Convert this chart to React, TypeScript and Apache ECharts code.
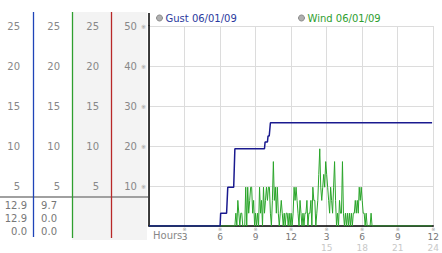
import React, { useEffect, useRef } from 'react';
import * as echarts from 'echarts';

// ---- data ----
const hourTicks = [3, 6, 9, 12, 15, 18, 21, 24];
const hourLabels = ['3', '6', '9', '12', '3', '6', '9', '12'];
const pmLabels = ['', '', '', '', '15', '18', '21', '24'];

const gustName = 'Gust 06/01/09';
const windName = 'Wind 06/01/09';

const gustTimes = [0, 6.0, 6.05, 6.55, 6.65, 7.15, 7.25, 9.75, 9.8, 10.0, 10.05, 10.15, 10.25, 23.9];
const gustValues = [0, 0, 3.2, 3.2, 9.7, 9.7, 19.3, 19.3, 21, 21, 22.5, 22.5, 25.8, 25.8];

const windStartHour = 6;
const windStepHours = 5 / 60;
const windValues = [
  0, 0, 0, 0, 0, 0, 0, 0, 0, 0, 0, 0,
  0, 0, 0, 0, 3.2, 0, 6.4, 3.2, 0, 3.2, 3.2, 0,
  0, 0, 9.7, 0, 9.7, 3.2, 6.4, 9.7, 9.7, 3.2, 6.4, 0,
  3.2, 0, 3.2, 0, 9.7, 3.2, 6.4, 0, 9.7, 3.2, 6.4, 9.7,
  6.4, 9.7, 9.7, 3.2, 0, 6.4, 16.1, 6.4, 9.7, 3.2, 9.7, 3.2,
  0, 3.2, 6.4, 3.2, 0, 3.2, 0, 3.2, 3.2, 0, 3.2, 0,
  3.2, 0, 3.2, 9.7, 6.4, 9.7, 6.4, 3.2, 0, 6.4, 3.2, 0,
  3.2, 0, 3.2, 3.2, 6.4, 0, 3.2, 3.2, 6.4, 0, 9.7, 6.4,
  6.4, 0, 3.2, 6.4, 12.9, 19.3, 9.7, 6.4, 9.7, 12.9, 9.7, 16.1,
  12.9, 9.7, 6.4, 3.2, 9.7, 6.4, 3.2, 9.7, 16.1, 6.4, 0, 3.2,
  0, 6.4, 3.2, 3.2, 16.1, 3.2, 0, 3.2, 0, 3.2, 0, 3.2,
  0, 3.2, 0, 3.2, 3.2, 6.4, 3.2, 6.4, 3.2, 9.7, 6.4, 9.7,
  6.4, 3.2, 3.2, 0, 3.2, 0, 0, 0, 0, 3.2, 0, 0,
  0,
];
const windFirst = [0, 0];
const windLast = [23.9, 0];

const summaryGust = ['12.9', '12.9', '0.0'];
const summaryWind = ['9.7', '0.0', '0.0'];

const FONT = 'DejaVu Sans, Noto Sans CJK JP, sans-serif';

export default function App() {
  const ref = useRef<HTMLDivElement>(null);
  useEffect(() => {
    document.body.style.margin = '0';
    if (!ref.current) return;
    const chart = echarts.init(ref.current, null, { renderer: 'svg' });

    const gustData = gustTimes.map((t, i) => [t, gustValues[i]]);
    const windData = [
      windFirst,
      ...windValues.map((v, i) => [windStartHour + i * windStepHours, v]),
      windLast,
    ];

    const leftAxis = (offset: number, margin: number) => ({
      type: 'value',
      gridIndex: 0,
      position: 'left',
      offset,
      min: 0,
      max: 25,
      interval: 5,
      axisLine: { show: false },
      axisTick: { show: false },
      splitLine: { show: false },
      axisLabel: {
        showMinLabel: false,
        margin,
        color: '#888',
        fontSize: 10,
        fontFamily: FONT,
      },
    });

    const extraX = (margin: number, formatter: (v: number) => string, color: string, fontSize: number) => ({
      type: 'value',
      gridIndex: 0,
      position: 'bottom',
      min: 0,
      max: 24,
      interval: 3,
      axisLine: { show: false },
      axisTick: { show: false },
      splitLine: { show: false },
      axisLabel: {
        showMinLabel: false,
        showMaxLabel: true,
        margin,
        formatter,
        color,
        fontSize,
        lineHeight: 9,
        fontFamily: FONT,
      },
    });

    const summaryTexts: any[] = [];
    const rowsY = [205, 218.5, 231];
    summaryGust.forEach((s, i) =>
      summaryTexts.push({
        type: 'text',
        x: 27,
        y: rowsY[i],
        z: 5,
        style: { text: s, fill: '#777', fontSize: 10, fontFamily: FONT, align: 'right', verticalAlign: 'middle' },
      })
    );
    summaryWind.forEach((s, i) =>
      summaryTexts.push({
        type: 'text',
        x: 57,
        y: rowsY[i],
        z: 5,
        style: { text: s, fill: '#777', fontSize: 10, fontFamily: FONT, align: 'right', verticalAlign: 'middle' },
      })
    );

    chart.setOption({
      animation: false,
      textStyle: { fontFamily: FONT },
      grid: { left: 149, top: 26, right: 2, bottom: 27, containLabel: false },
      legend: [
        {
          data: [{ name: gustName, icon: 'circle', itemStyle: { color: '#b0b0b0', borderColor: '#888', borderWidth: 1 }, textStyle: { color: '#2b3a9e' } }],
          left: 156,
          top: 13,
          padding: 0,
          itemWidth: 6,
          itemHeight: 6,
          selectedMode: false,
          textStyle: { fontSize: 10, fontFamily: FONT, padding: [0, 0, 0, -2] },
        },
        {
          data: [{ name: windName, icon: 'circle', itemStyle: { color: '#b0b0b0', borderColor: '#888', borderWidth: 1 }, textStyle: { color: '#2e9e2e' } }],
          left: 298,
          top: 13,
          padding: 0,
          itemWidth: 6,
          itemHeight: 6,
          selectedMode: false,
          textStyle: { fontSize: 10, fontFamily: FONT, padding: [0, 0, 0, -2] },
        },
      ],
      xAxis: [
        {
          type: 'value',
          position: 'bottom',
          min: 0,
          max: 24,
          interval: 3,
          axisLine: { show: true, lineStyle: { color: '#000', width: 1.5 } },
          axisTick: { show: false },
          splitLine: { show: true, lineStyle: { color: '#dcdcdc', width: 1 } },
          axisLabel: {
            showMinLabel: false,
            showMaxLabel: true,
            margin: 0,
            formatter: () => '※',
            color: '#999',
            fontSize: 5,
            lineHeight: 5,
            fontFamily: FONT,
          },
        },
        extraX(6, (v: number) => {
          const i = hourTicks.indexOf(v);
          return i < 0 ? '' : hourLabels[i];
        }, '#777', 9),
        extraX(17, (v: number) => {
          const i = hourTicks.indexOf(v);
          return i < 0 ? '' : pmLabels[i];
        }, '#c8c8c8', 9),
      ],
      yAxis: [
        {
          type: 'value',
          position: 'left',
          min: 0,
          max: 50,
          interval: 10,
          axisLine: { show: true, lineStyle: { color: '#000', width: 1.5 } },
          axisTick: { show: false },
          splitLine: { show: true, lineStyle: { color: '#dcdcdc', width: 1 } },
          axisLabel: {
            showMinLabel: false,
            margin: 3,
            formatter: (v: number) => (v === 0 ? '' : `{v|${v}}{m|※}`),
            rich: {
              v: { fontSize: 10, color: '#888', fontFamily: FONT },
              m: { fontSize: 6, color: '#999', padding: [0, 0, 0, 4], fontFamily: FONT },
            },
          },
        },
        leftAxis(116, 13),
        leftAxis(77, 12),
        leftAxis(38, 12),
      ],
      graphic: [
        { type: 'rect', z: -10, shape: { x: 72, y: 12, width: 75, height: 228 }, style: { fill: '#f3f3f3' } },
        { type: 'line', z: 1, shape: { x1: 0, y1: 197, x2: 148, y2: 197 }, style: { stroke: '#a0a0a0', lineWidth: 2 } },
        { type: 'line', z: 2, shape: { x1: 33.5, y1: 12, x2: 33.5, y2: 237 }, style: { stroke: '#1f44b8', lineWidth: 1.3 } },
        { type: 'line', z: 2, shape: { x1: 72.5, y1: 12, x2: 72.5, y2: 238 }, style: { stroke: '#2f9f2f', lineWidth: 1.3 } },
        { type: 'line', z: 2, shape: { x1: 111.5, y1: 12, x2: 111.5, y2: 238 }, style: { stroke: '#b82828', lineWidth: 1.3 } },
        { type: 'line', z: 2, shape: { x1: 149, y1: 13, x2: 149, y2: 26 }, style: { stroke: '#000', lineWidth: 1.5 } },
        {
          type: 'text',
          x: 153,
          y: 235,
          z: 5,
          style: { text: 'Hours', fill: '#888', fontSize: 10, fontFamily: FONT, align: 'left', verticalAlign: 'middle' },
        },
        ...summaryTexts,
      ],
      series: [
        {
          name: windName,
          type: 'line',
          xAxisIndex: 0,
          yAxisIndex: 0,
          data: windData,
          showSymbol: false,
          symbol: 'none',
          lineStyle: { color: '#2aa52a', width: 1 },
          itemStyle: { color: '#2aa52a' },
          z: 2,
        },
        {
          name: gustName,
          type: 'line',
          xAxisIndex: 0,
          yAxisIndex: 0,
          data: gustData,
          showSymbol: false,
          symbol: 'none',
          lineStyle: { color: '#1a1a8f', width: 1.5 },
          itemStyle: { color: '#1a1a8f' },
          z: 3,
        },
      ],
    });
    return () => chart.dispose();
  }, []);
  return <div ref={ref} style={{ width: 442, height: 253 }} />;
}
